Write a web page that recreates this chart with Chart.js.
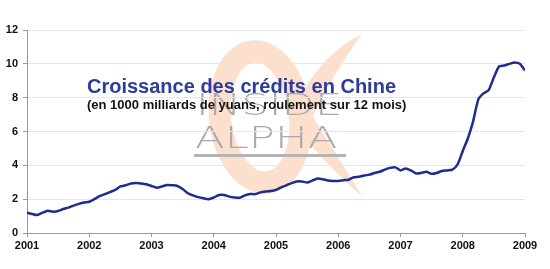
<!DOCTYPE html>
<html>
<head>
<meta charset="utf-8">
<script src="https://cdn.jsdelivr.net/npm/chart.js@4.4.1/dist/chart.umd.min.js"></script>
<style>
  body { margin: 0; background: #fff; }
  #wrap { width: 550px; height: 269px; }
</style>
</head>
<body>
<div id="wrap"><canvas id="creditChart"></canvas></div>
<script>
// monthly values, Jan 2001 -> Jan 2009 (1000 milliards de yuans)
var yearLabels = ['2001', '2002', '2003', '2004', '2005', '2006', '2007', '2008', '2009'];
var credit = [
  1.20, 1.12, 1.06, 1.20, 1.32, 1.26, 1.30, 1.42, 1.50, 1.62, 1.72, 1.80,
  1.85, 2.00, 2.18, 2.30, 2.42, 2.55, 2.75, 2.82, 2.92, 2.95, 2.93, 2.88,
  2.78, 2.68, 2.75, 2.84, 2.82, 2.78, 2.60, 2.35, 2.22, 2.12, 2.05, 2.00,
  2.10, 2.25, 2.25, 2.15, 2.10, 2.08, 2.22, 2.30, 2.30, 2.40, 2.45, 2.48,
  2.55, 2.70, 2.82, 2.95, 3.05, 3.05, 2.98, 3.10, 3.22, 3.18, 3.10, 3.08,
  3.08, 3.12, 3.15, 3.30, 3.32, 3.40, 3.45, 3.55, 3.62, 3.75, 3.85, 3.88,
  3.70, 3.82, 3.70, 3.52, 3.55, 3.62, 3.50, 3.55, 3.67, 3.70, 3.75, 4.05,
  4.85, 5.60, 6.60, 7.90, 8.25, 8.45, 9.20, 9.85, 9.90, 10.00, 10.08, 10.00,
  9.60
];
var yTicks = [0, 2, 4, 6, 8, 10, 12];
var titleText = 'Croissance des crédits en Chine';
var subtitleText = '(en 1000 milliards de yuans, roulement sur 12 mois)';

// watermark logo behind the plot, title on top of it
var overlay = {
  id: 'overlay',
  beforeDraw: function (chart) {
    var ctx = chart.ctx;
    ctx.save();
    // alpha sign
    ctx.strokeStyle = '#fcdfcd';
    ctx.fillStyle = '#fcdfcd';
    ctx.lineWidth = 22;
    ctx.beginPath();
    ctx.ellipse(260, 117, 40, 66, -0.12, 0, Math.PI * 2);
    ctx.stroke();
    // tapering tails
    ctx.beginPath();
    ctx.moveTo(288, 118);
    ctx.quadraticCurveTo(318, 55, 362, 34);
    ctx.quadraticCurveTo(332, 75, 310, 122);
    ctx.closePath();
    ctx.fill();
    ctx.beginPath();
    ctx.moveTo(288, 118);
    ctx.quadraticCurveTo(330, 170, 362, 196);
    ctx.quadraticCurveTo(340, 160, 310, 112);
    ctx.closePath();
    ctx.fill();
    // INSIDE / ALPHA
    ctx.fillStyle = '#aaaaaa';
    ctx.font = '200 31px "DejaVu Sans"';
    ctx.textBaseline = 'alphabetic';
    ctx.save();
    ctx.scale(1.4, 1);
    ctx.fillText('INSIDE', 196 / 1.4, 115);
    ctx.fillText('ALPHA', 195 / 1.4, 148);
    ctx.restore();
    ctx.fillStyle = '#b4b4b4';
    ctx.fillRect(194, 154, 152, 3);
    ctx.restore();
  },
  afterDatasetsDraw: function (chart) {
    var ctx = chart.ctx;
    ctx.save();
    ctx.textBaseline = 'alphabetic';
    ctx.fillStyle = '#2d3b9b';
    ctx.font = 'bold 20px "Liberation Sans"';
    ctx.fillText(titleText, 87, 93);
    ctx.fillStyle = '#111';
    ctx.font = 'bold 13px "Liberation Sans"';
    ctx.fillText(subtitleText, 87, 109);
    ctx.restore();
  }
};

var ctx = document.getElementById('creditChart').getContext('2d');
var creditChart = new Chart(ctx, {
  type: 'line',
  data: {
    datasets: [
      {
        data: credit.map(function (v, i) { return { x: 2001 + i / 12, y: v }; }),
        borderColor: '#1f2c8e',
        borderWidth: 2.5,
        pointRadius: 0,
        tension: 0.2,
        fill: false,
      },
    ],
  },
  options: {
    responsive: true,
    maintainAspectRatio: false,
    animation: false,
    layout: { padding: { left: 0, right: 25, top: 30, bottom: 0 } },
    plugins: {
      legend: { display: false },
      tooltip: { enabled: false },
    },
    scales: {
      x: {
        type: 'linear',
        min: 2001,
        max: 2009,
        afterBuildTicks: function (axis) {
          axis.ticks = yearLabels.map(function (y) { return { value: Number(y) }; });
        },
        afterFit: function (axis) { axis.height = 36; },
        grid: { display: true, drawOnChartArea: false, tickLength: 4, tickColor: '#999' },
        border: { color: '#999', width: 1 },
        ticks: {
          color: '#111',
          font: { family: 'Liberation Sans', size: 11, weight: 'bold' },
          padding: 2,
          maxRotation: 0,
          callback: function (v) { return yearLabels[v - 2001]; },
        },
      },
      y: {
        min: 0,
        max: 12,
        afterBuildTicks: function (axis) {
          axis.ticks = yTicks.map(function (v) { return { value: v }; });
        },
        afterFit: function (axis) { axis.width = 27; },
        grid: { color: '#e6e6e6', tickLength: 4, tickColor: '#999' },
        border: { color: '#999', width: 1 },
        ticks: {
          color: '#111',
          font: { family: 'Liberation Sans', size: 11, weight: 'bold' },
          padding: 5,
        },
      },
    },
  },
  plugins: [overlay],
});
</script>
</body>
</html>
